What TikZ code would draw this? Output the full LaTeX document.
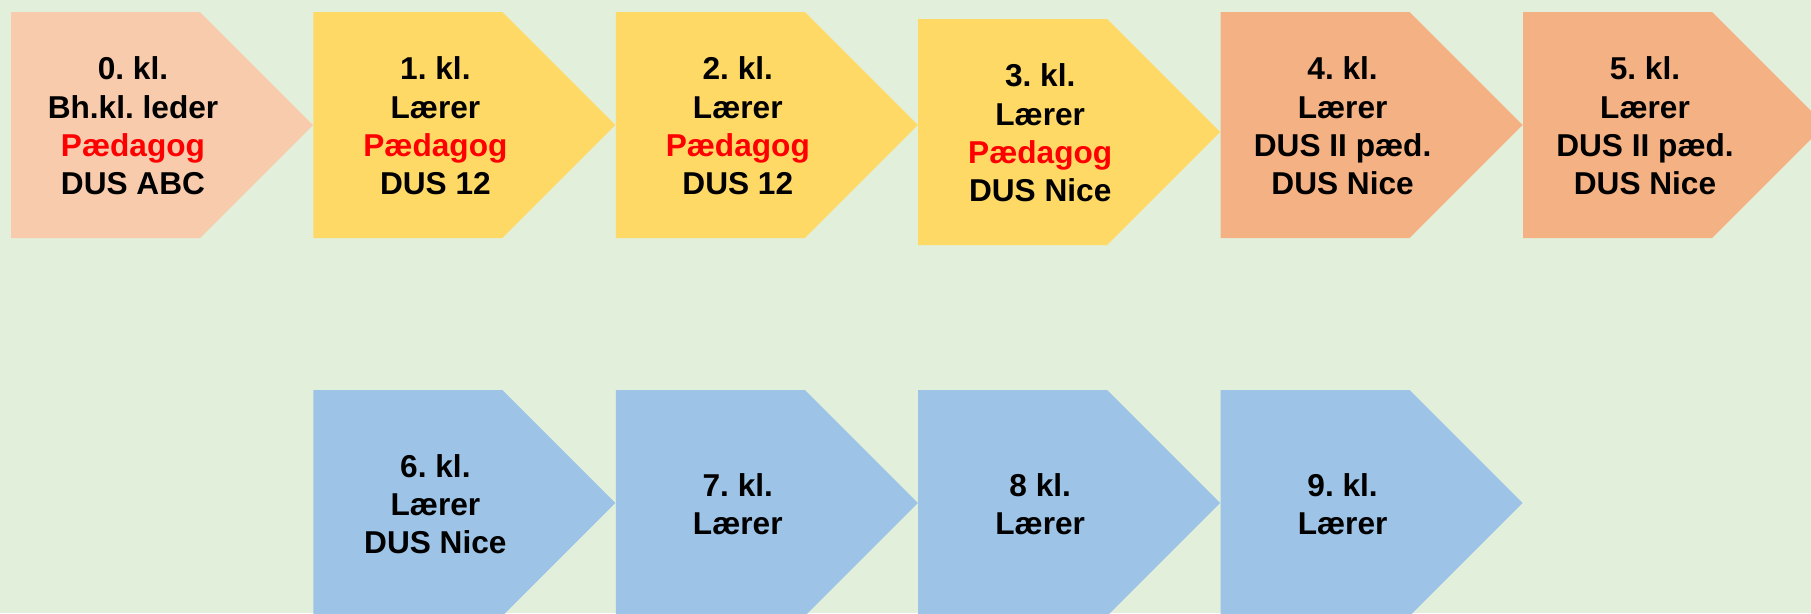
\documentclass[tikz,border=0pt]{standalone}
\usepackage{fontspec}
\setmainfont{Liberation Sans}
\usetikzlibrary{calc}
\definecolor{backdrop}{RGB}{226, 239, 218}
\definecolor{peach}{RGB}{248, 203, 173}
\definecolor{gold}{RGB}{255, 217, 102}
\definecolor{apricot}{RGB}{244, 177, 131}
\definecolor{skyblue}{RGB}{157, 195, 230}
\definecolor{staffred}{RGB}{255, 0, 0}
\frenchspacing

\begin{document}
\begin{tikzpicture}[
	x=0.02cm, y=-0.02cm,
	% Styles for the grade chevrons and their labels
	gradeshape/.style={draw=none},
	gradetext/.style={font=\fontsize{18}{21.8}\selectfont\bfseries, align=center, text=black, inner sep=0pt}
	]
	
	% ==========================================
	% 0. BACKGROUND AND FRAME
	% ==========================================
	\useasboundingbox (0, 0) rectangle (1811, 613);
	\fill[backdrop] (0, 0) rectangle (1811, 613);
	\clip (0, 0) rectangle (1811, 613);
	
	% ==========================================
	% 1. UPPER ROW (0. - 5. kl.)
	% ==========================================
	% Each chevron: 189 wide body, 113 deep point, 226 high
	\fill[gradeshape, peach] (11, 12) -- ++(189, 0) -- ++(113, 113) -- ++(-113, 113) -- ++(-189, 0) -- cycle;
	\node[gradetext] (kl0) at (133, 126) {0. kl.\\Bh.kl. leder\\{\color{staffred}Pædagog}\\DUS ABC};
	
	\fill[gradeshape, gold] (313.4, 12) -- ++(189, 0) -- ++(113, 113) -- ++(-113, 113) -- ++(-189, 0) -- cycle;
	\node[gradetext] (kl1) at (435.4, 126) {1. kl.\\Lærer\\{\color{staffred}Pædagog}\\DUS 12};
	
	\fill[gradeshape, gold] (615.8, 12) -- ++(189, 0) -- ++(113, 113) -- ++(-113, 113) -- ++(-189, 0) -- cycle;
	\node[gradetext] (kl2) at (737.8, 126) {2. kl.\\Lærer\\{\color{staffred}Pædagog}\\DUS 12};
	
	% 3. kl. sits a little lower than its neighbours
	\fill[gradeshape, gold] (918.2, 19) -- ++(189, 0) -- ++(113, 113) -- ++(-113, 113) -- ++(-189, 0) -- cycle;
	\node[gradetext] (kl3) at (1040.2, 133) {3. kl.\\Lærer\\{\color{staffred}Pædagog}\\DUS Nice};
	
	\fill[gradeshape, apricot] (1220.6, 12) -- ++(189, 0) -- ++(113, 113) -- ++(-113, 113) -- ++(-189, 0) -- cycle;
	\node[gradetext] (kl4) at (1342.6, 126) {4. kl.\\Lærer\\DUS II pæd.\\DUS Nice};
	
	\fill[gradeshape, apricot] (1523, 12) -- ++(189, 0) -- ++(113, 113) -- ++(-113, 113) -- ++(-189, 0) -- cycle;
	\node[gradetext] (kl5) at (1645, 126) {5. kl.\\Lærer\\DUS II pæd.\\DUS Nice};
	
	% ==========================================
	% 2. LOWER ROW (6. - 9. kl.)
	% ==========================================
	\fill[gradeshape, skyblue] (313.4, 390) -- ++(189, 0) -- ++(113, 113) -- ++(-113, 113) -- ++(-189, 0) -- cycle;
	\node[gradetext] (kl6) at (435.4, 504) {6. kl.\\Lærer\\DUS Nice};
	
	\fill[gradeshape, skyblue] (615.8, 390) -- ++(189, 0) -- ++(113, 113) -- ++(-113, 113) -- ++(-189, 0) -- cycle;
	\node[gradetext] (kl7) at (737.8, 504) {7. kl.\\Lærer};
	
	\fill[gradeshape, skyblue] (918.2, 390) -- ++(189, 0) -- ++(113, 113) -- ++(-113, 113) -- ++(-189, 0) -- cycle;
	\node[gradetext] (kl8) at (1040.2, 504) {8 kl.\\Lærer};
	
	\fill[gradeshape, skyblue] (1220.6, 390) -- ++(189, 0) -- ++(113, 113) -- ++(-113, 113) -- ++(-189, 0) -- cycle;
	\node[gradetext] (kl9) at (1342.6, 504) {9. kl.\\Lærer};
	
\end{tikzpicture}
\end{document}
